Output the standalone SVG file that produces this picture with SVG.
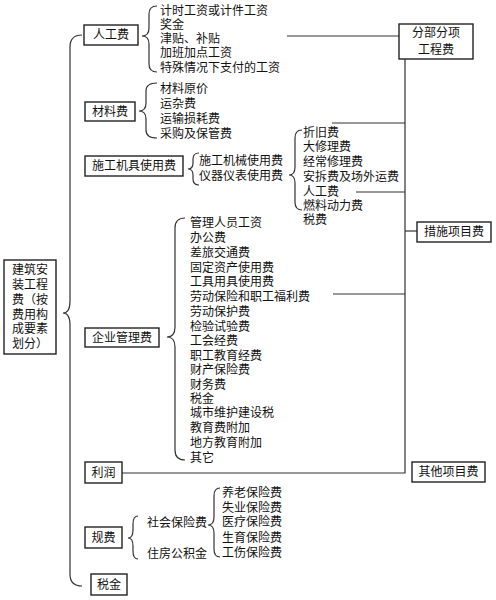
<svg xmlns="http://www.w3.org/2000/svg" width="496" height="600" viewBox="0 0 496 600">
<style>
text{font-family:"Liberation Sans","Noto Sans CJK SC",sans-serif;font-size:12px;fill:#111;dominant-baseline:central}
.box{fill:#fff;stroke:#222;stroke-width:1.4}
.ln{fill:none;stroke:#333;stroke-width:1.2}
.c{text-anchor:middle}
</style>
<rect width="496" height="600" fill="#fff"/>
<g id="connectors">
<path class="ln" d="M82,35 Q70,35 70,47 L70,301 Q70,313 63,313 Q70,313 70,325 L70,574 Q70,586 82,586"/>
<path class="ln" d="M157,6 Q149,6 149,14 L149,28 Q149,36 142,36 Q149,36 149,44 L149,64 Q149,72 157,72"/>
<path class="ln" d="M157,83 Q146,83 146,91 L146,103 Q146,111 139,111 Q146,111 146,119 L146,130 Q146,138 157,138"/>
<path class="ln" d="M199,153 Q193,153 193,159 L193,163 Q193,169 188,169 Q193,169 193,175 L193,179 Q193,185 199,185"/>
<path class="ln" d="M302,130 Q295,130 295,138 L295,167 Q295,175 289,175 Q295,175 295,183 L295,202 Q295,210 302,210"/>
<path class="ln" d="M185,218 Q175,218 175,228 L175,327 Q175,337 167,337 Q175,337 175,347 L175,450 Q175,460 185,460"/>
<path class="ln" d="M138,516 Q133,516 133,524 L133,530 Q133,538 128,538 Q133,538 133,546 L133,551 Q133,559 138,559"/>
<path class="ln" d="M220,488 Q214,488 214,496 L214,517 Q214,525 208,525 Q214,525 214,533 L214,549 Q214,557 220,557"/>
<path class="ln" d="M287,36 L399,36"/>
<path class="ln" d="M405,59 L405,473 L122,473"/>
<path class="ln" d="M332,123 L405,123"/>
<path class="ln" d="M356,192 L405,192"/>
<path class="ln" d="M405,231 L417,231"/>
<path class="ln" d="M333,294 L405,294"/>
</g>
<g id="root">
<rect class="box" x="4" y="260" width="52" height="94"/>
<text class="c"><tspan x="30" y="270">建筑安</tspan><tspan x="30" y="285">装工程</tspan><tspan x="30" y="300">费（按</tspan><tspan x="30" y="315">费用构</tspan><tspan x="30" y="329">成要素</tspan><tspan x="30" y="344">划分）</tspan></text>
</g>
<g id="rengongfei">
<rect class="box" x="84" y="25" width="54" height="20"/>
<text x="111" y="35" class="c">人工费</text>
<text><tspan x="160" y="11">计时工资或计件工资</tspan><tspan x="160" y="25">奖金</tspan><tspan x="160" y="39">津贴、补贴</tspan><tspan x="160" y="53">加班加点工资</tspan><tspan x="160" y="68">特殊情况下支付的工资</tspan></text>
</g>
<g id="cailiaofei">
<rect class="box" x="85" y="102" width="50" height="19"/>
<text x="110" y="111.5" class="c">材料费</text>
<text><tspan x="160" y="89">材料原价</tspan><tspan x="160" y="104">运杂费</tspan><tspan x="160" y="119">运输损耗费</tspan><tspan x="160" y="134">采购及保管费</tspan></text>
</g>
<g id="jijufei">
<rect class="box" x="85" y="156" width="98" height="20"/>
<text x="134" y="166" class="c">施工机具使用费</text>
<text><tspan x="199" y="161">施工机械使用费</tspan><tspan x="199" y="176">仪器仪表使用费</tspan></text>
<text><tspan x="303" y="133">折旧费</tspan><tspan x="303" y="147">大修理费</tspan><tspan x="303" y="162">经常修理费</tspan><tspan x="303" y="177">安拆费及场外运费</tspan><tspan x="303" y="192">人工费</tspan><tspan x="303" y="206">燃料动力费</tspan><tspan x="303" y="220">税费</tspan></text>
</g>
<g id="qiyeguanlifei">
<rect class="box" x="85" y="328" width="74" height="19"/>
<text x="122" y="337.5" class="c">企业管理费</text>
<text><tspan x="190" y="223">管理人员工资</tspan><tspan x="190" y="238">办公费</tspan><tspan x="190" y="253">差旅交通费</tspan><tspan x="190" y="268">固定资产使用费</tspan><tspan x="190" y="282">工具用具使用费</tspan><tspan x="190" y="297">劳动保险和职工福利费</tspan><tspan x="190" y="312">劳动保护费</tspan><tspan x="190" y="327">检验试验费</tspan><tspan x="190" y="341">工会经费</tspan><tspan x="190" y="356">职工教育经费</tspan><tspan x="190" y="370">财产保险费</tspan><tspan x="190" y="385">财务费</tspan><tspan x="190" y="399">税金</tspan><tspan x="190" y="413">城市维护建设税</tspan><tspan x="190" y="428">教育费附加</tspan><tspan x="190" y="443">地方教育附加</tspan><tspan x="190" y="458">其它</tspan></text>
</g>
<g id="lirun">
<rect class="box" x="85" y="462" width="37" height="21"/>
<text x="103.5" y="472.5" class="c">利润</text>
</g>
<g id="guifei">
<rect class="box" x="85" y="527" width="37" height="21"/>
<text x="103.5" y="537.5" class="c">规费</text>
<text><tspan x="147" y="523">社会保险费</tspan><tspan x="147" y="554">住房公积金</tspan></text>
<text><tspan x="222" y="493">养老保险费</tspan><tspan x="222" y="508">失业保险费</tspan><tspan x="222" y="522">医疗保险费</tspan><tspan x="222" y="538">生育保险费</tspan><tspan x="222" y="553">工伤保险费</tspan></text>
</g>
<g id="shuijin">
<rect class="box" x="91" y="574" width="36" height="21"/>
<text x="109" y="584.5" class="c">税金</text>
</g>
<g id="fenbufenxiang">
<rect class="box" x="399" y="24" width="74" height="35"/>
<text class="c"><tspan x="436" y="33">分部分项</tspan><tspan x="436" y="50">工程费</tspan></text>
</g>
<g id="cuoshi">
<rect class="box" x="417" y="222" width="74" height="20"/>
<text x="454" y="232" class="c">措施项目费</text>
</g>
<g id="qita">
<rect class="box" x="412" y="462" width="73" height="20"/>
<text x="448.5" y="472" class="c">其他项目费</text>
</g>
</svg>
